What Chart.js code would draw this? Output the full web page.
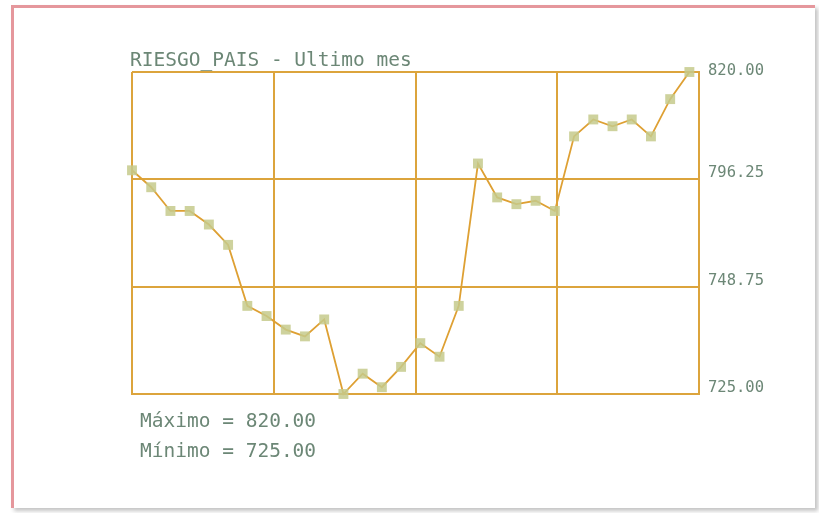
<!DOCTYPE html>
<html>
<head>
<meta charset="utf-8">
<script src="https://cdn.jsdelivr.net/npm/chart.js@4"></script>
<style>
  html, body { margin: 0; padding: 0; background: #fff; }
  #frame {
    position: absolute; left: 11px; top: 5px; width: 801px; height: 500px;
    border-top: 3px solid #e5979c; border-left: 3px solid #e5979c;
    box-shadow: 3px 3px 4px #c4c4c4;
  }
  #wrap { position: absolute; left: 0; top: 0; width: 819px; height: 513px; }
</style>
</head>
<body>
<div id="frame"></div>
<div id="wrap"><canvas id="chart" width="819" height="513"></canvas></div>
<script>
const titleText = 'RIESGO_PAIS - Ultimo mes';
const days = [0, 1, 2, 3, 4, 5, 6, 7, 8, 9, 10, 11, 12, 13, 14, 15, 16, 17, 18, 19, 20, 21, 22, 23, 24, 25, 26, 27, 28, 29];
const riesgo = [791, 786, 779, 779, 775, 769, 751, 748, 744, 742, 747, 725, 731, 727, 733,
                740, 736, 751, 793, 783, 781, 782, 779, 801, 806, 804, 806, 801, 812, 820];
const yTickValues = [725, 756.67, 788.33, 820];
const yTickLabels = ['725.00', '748.75', '796.25', '820.00'];
const xGridValues = [0, 7.375, 14.75, 22.125, 29.5];

const textColor = '#6c8776';
const gridColor = '#dca43c';
const monoFont = '"DejaVu Sans Mono", "Liberation Mono", monospace';

const textPlugin = {
  id: 'textPlugin',
  afterDraw(chart) {
    const ctx = chart.ctx;
    const area = chart.chartArea;
    const maxV = Math.max(...riesgo);
    const minV = Math.min(...riesgo);
    ctx.save();
    ctx.fillStyle = textColor;
    ctx.textBaseline = 'alphabetic';
    ctx.textAlign = 'left';
    ctx.font = '19.5px ' + monoFont;
    ctx.fillText(titleText, area.left - 2, area.top - 6.5);
    ctx.fillText('Máximo = ' + maxV.toFixed(2), area.left + 8, area.bottom + 33);
    ctx.fillText('Mínimo = ' + minV.toFixed(2), area.left + 8, area.bottom + 63);
    ctx.restore();
  }
};

const ctx = document.getElementById('chart').getContext('2d');
const chart = new Chart(ctx, {
  type: 'line',
  data: {
    datasets: [{
      data: days.map((d, i) => ({ x: d, y: riesgo[i] })),
      borderColor: '#dea033',
      borderWidth: 1.8,
      pointStyle: 'rect',
      pointRadius: 7,
      pointBackgroundColor: 'rgba(198, 202, 140, 0.85)',
      pointBorderWidth: 0,
      tension: 0,
      clip: false
    }]
  },
  options: {
    responsive: false,
    animation: false,
    layout: { padding: { left: 132, top: 72, right: 0, bottom: 119 } },
    plugins: {
      legend: { display: false },
      tooltip: { enabled: false }
    },
    scales: {
      x: {
        type: 'linear',
        min: 0,
        max: 29.5,
        afterBuildTicks: function(axis) {
          axis.ticks = xGridValues.map(v => ({ value: v }));
        },
        afterFit: function(axis) { axis.height = 0; },
        ticks: { display: false },
        grid: { color: gridColor, lineWidth: 2, drawTicks: false },
        border: { color: gridColor, width: 2 }
      },
      y: {
        position: 'right',
        min: 725,
        max: 820,
        afterBuildTicks: function(axis) {
          axis.ticks = yTickValues.map(v => ({ value: v }));
        },
        afterFit: function(axis) { axis.width = 120; },
        ticks: {
          callback: function(value, index) {
            // top label sits a little lower, kept inside the frame
            return index === yTickLabels.length - 1 ? ['', yTickLabels[index]] : yTickLabels[index];
          },
          color: textColor,
          font: { family: monoFont, size: 15.5, lineHeight: 0.6 },
          padding: 9,
          labelOffset: -6
        },
        grid: { color: gridColor, lineWidth: 2, drawTicks: false },
        border: { color: gridColor, width: 2 }
      }
    }
  },
  plugins: [textPlugin]
});
</script>
</body>
</html>
